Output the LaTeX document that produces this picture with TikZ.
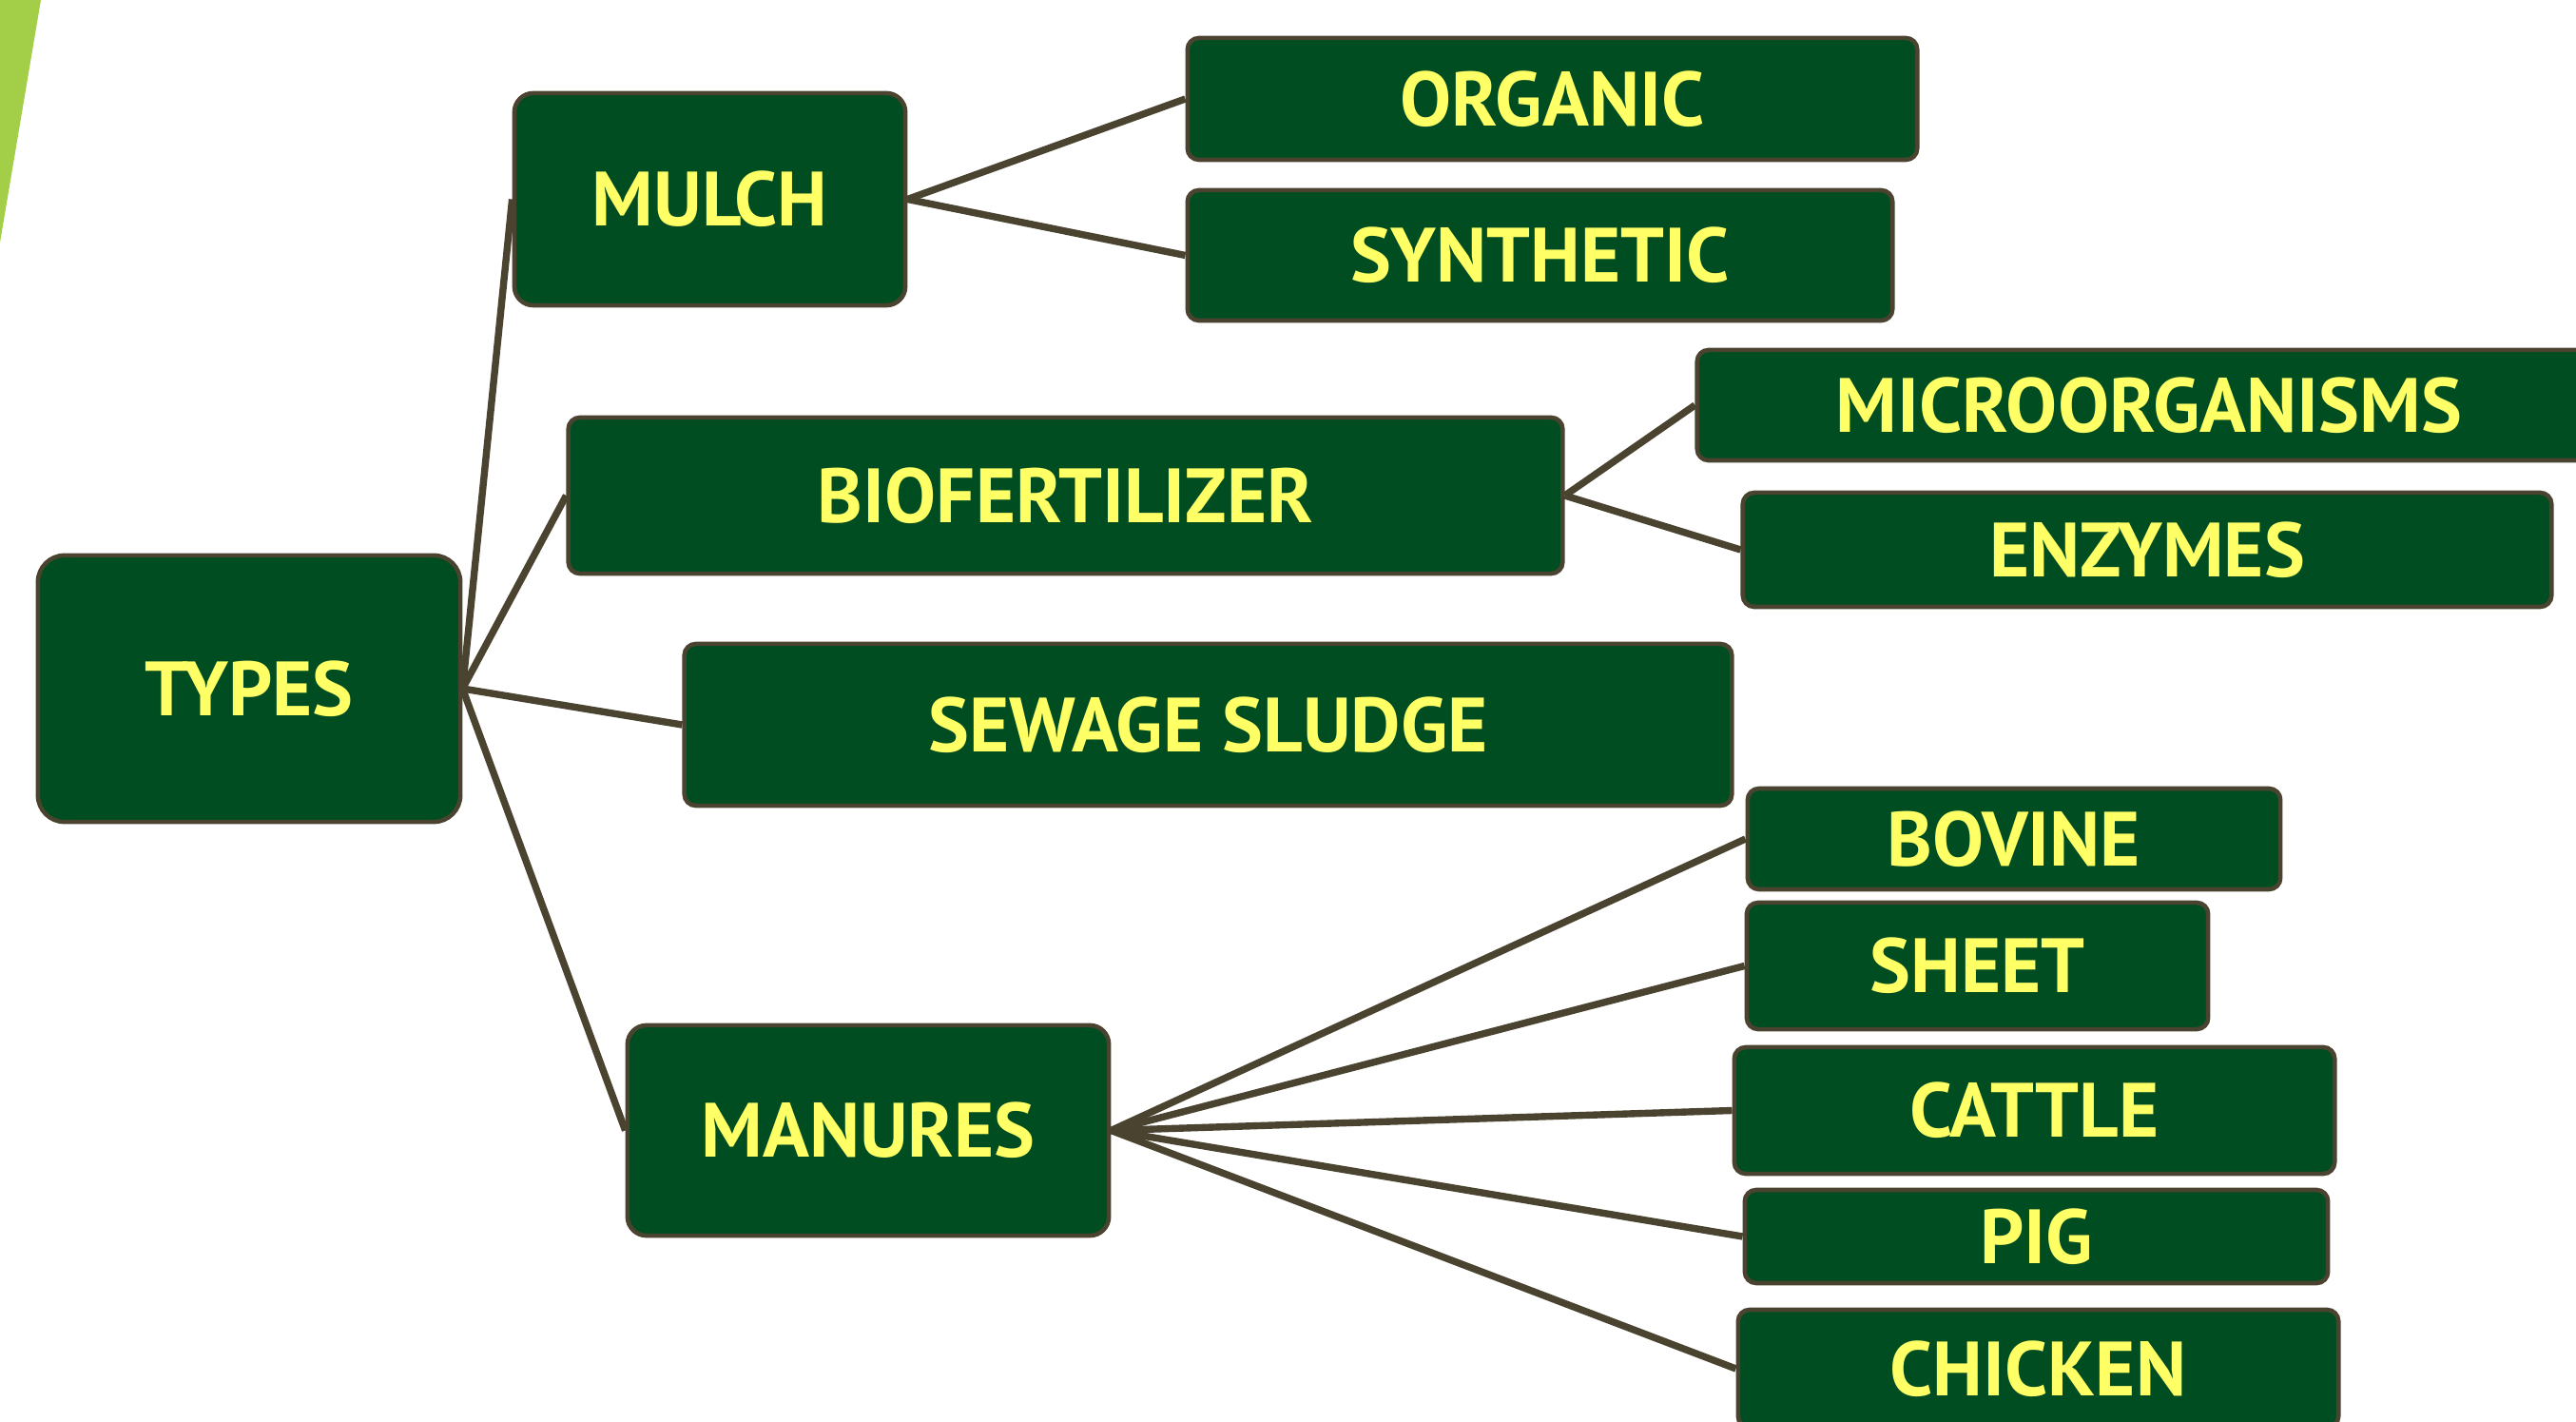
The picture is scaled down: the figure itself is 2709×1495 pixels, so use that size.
\documentclass[tikz,border=0pt]{standalone}
\usepackage{fontspec}
\setmainfont{PT Sans}
\definecolor{boxgreen}{HTML}{004D22}
\definecolor{edgebrown}{HTML}{4A4330}
\definecolor{txtyellow}{HTML}{FFFF66}
\definecolor{leafgreen}{HTML}{A3CE47}
\begin{document}
\begin{tikzpicture}[x=0.01cm,y=-0.01cm,
  box/.style={draw=edgebrown, line width=1.3pt, fill=boxgreen, rounded corners=0.2cm,
    inner sep=0pt, text=txtyellow, font=\bfseries\fontsize{23}{26}\selectfont},
  smallbox/.style={box, rounded corners=0.12cm},
  link/.style={draw=edgebrown, line width=2.1pt}]
\useasboundingbox (0,0) rectangle (2709,1495);
\fill[leafgreen] (0,0) -- (43,0) -- (0,255) -- cycle;
% nodes
\node[box, rounded corners=0.28cm, minimum width=4.44cm, minimum height=2.80cm] (types) at (262,724) {TYPES};
\node[box, minimum width=4.11cm, minimum height=2.23cm] (mulch) at (746.5,209.5) {MULCH};
\node[smallbox, minimum width=7.67cm, minimum height=1.28cm] (organic) at (1632.5,104) {ORGANIC};
\node[smallbox, minimum width=7.41cm, minimum height=1.37cm] (synthetic) at (1619.5,268.5) {SYNTHETIC};
\node[smallbox, minimum width=10.45cm, minimum height=1.64cm] (bio) at (1120.5,521) {BIOFERTILIZER};
\node[smallbox, minimum width=9.50cm, minimum height=1.16cm] (micro) at (2260,426) {MICROORGANISMS};
\node[smallbox, minimum width=8.50cm, minimum height=1.20cm] (enzymes) at (2258,578) {ENZYMES};
\node[smallbox, minimum width=11.01cm, minimum height=1.70cm] (sewage) at (1270.5,762) {SEWAGE SLUDGE};
\node[box, minimum width=5.06cm, minimum height=2.21cm] (manures) at (913,1188.5) {MANURES};
\node[smallbox, minimum width=5.60cm, minimum height=1.06cm] (bovine) at (2118,882) {BOVINE};
\node[smallbox, minimum width=4.85cm, minimum height=1.33cm] (sheet) at (2079.5,1015.5) {SHEET};
\node[smallbox, minimum width=6.31cm, minimum height=1.33cm] (cattle) at (2139.5,1167.5) {CATTLE};
\node[smallbox, minimum width=6.13cm, minimum height=0.98cm] (pig) at (2141.5,1300) {PIG};
\node[smallbox, minimum width=6.31cm, minimum height=1.24cm] (chicken) at (2143.5,1439) {CHICKEN};
% connectors
\draw[link] (types.east) -- (mulch.west);
\draw[link] (types.east) -- (bio.west);
\draw[link] (types.east) -- (sewage.west);
\draw[link] (types.east) -- (manures.west);
\draw[link] (mulch.east) -- (organic.west);
\draw[link] (mulch.east) -- (synthetic.west);
\draw[link] (bio.east) -- (micro.west);
\draw[link] (bio.east) -- (enzymes.west);
\draw[link] (manures.east) -- (bovine.west);
\draw[link] (manures.east) -- (sheet.west);
\draw[link] (manures.east) -- (cattle.west);
\draw[link] (manures.east) -- (pig.west);
\draw[link] (manures.east) -- (chicken.west);
\end{tikzpicture}
\end{document}
